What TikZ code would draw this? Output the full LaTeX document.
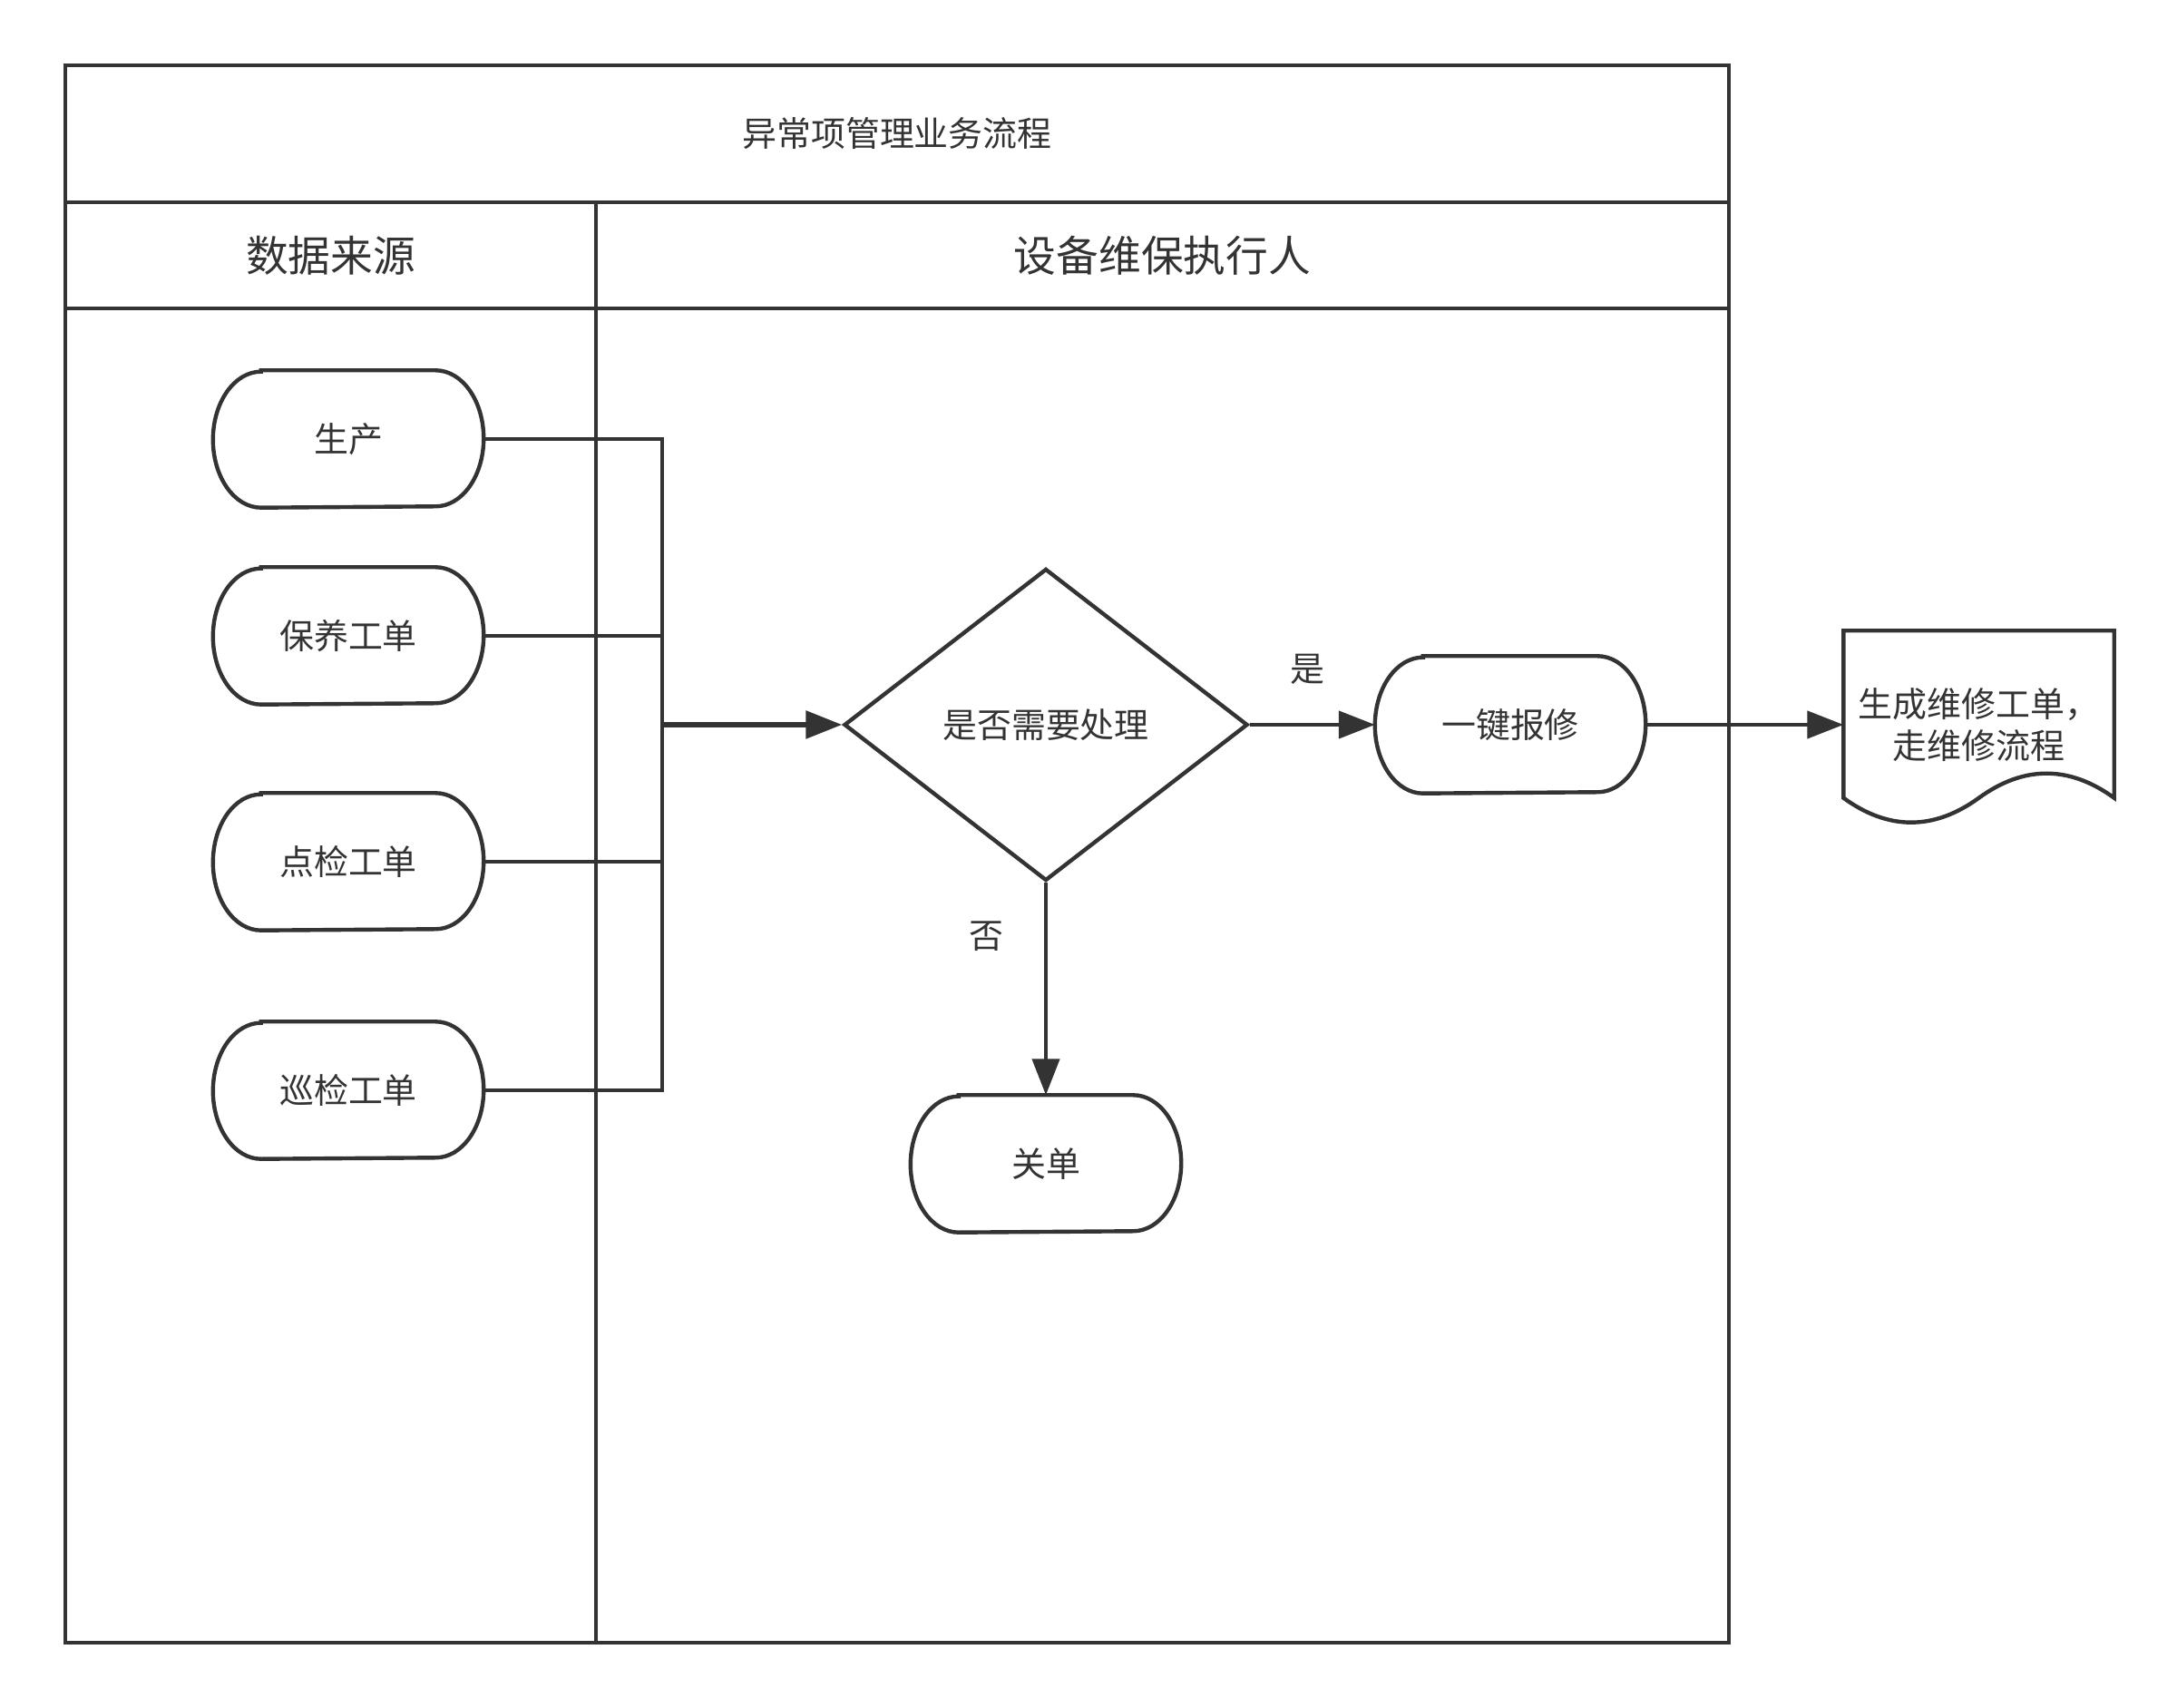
\documentclass[tikz,border=0pt]{standalone}
\usepackage{fontspec}
\setmainfont{Noto Sans CJK SC}
\usepackage{tikz}
\usetikzlibrary{positioning, arrows.meta, calc, shapes.geometric}

\definecolor{linegray}{HTML}{333333}

\tikzset{
    lane/.style={draw=linegray, line width=1.4pt},
    flow/.style={draw=linegray, line width=1.25pt},
    flowarrow/.style={flow, -{Triangle[length=4mm, width=3mm]}},
    nodefont/.style={text=linegray, font=\fontsize{10.8}{13.3}\selectfont},
    termnode/.style={nodefont, rectangle, minimum width=2.97cm, minimum height=1.5cm, inner sep=0},
    decision/.style={nodefont, diamond, draw=linegray, line width=1.25pt, minimum width=4.45cm, minimum height=3.44cm, inner sep=0},
    docnode/.style={nodefont, rectangle, align=center, minimum width=2.97cm, minimum height=2.06cm, inner sep=0},
    edgelabel/.style={nodefont, inner sep=0}
}

% terminator outline with elliptic ends
\def\termframe#1{%
    \draw[flow]
        ($(#1.north west)+(0.53,0)$) -- ($(#1.north east)+(-0.53,0)$)
        arc[start angle=90, end angle=-90, x radius=0.53cm, y radius=0.75cm]
        -- ($(#1.south west)+(0.53,0)$)
        arc[start angle=270, end angle=90, x radius=0.53cm, y radius=0.75cm]
        -- cycle;
}

\begin{document}
\begin{tikzpicture}
    \useasboundingbox (0,0) rectangle (24,18.82);

    % pool and lanes
    \draw[lane] (0.72,0.71) rectangle (19.06,18.10);
    \draw[lane] (0.72,16.59) -- (19.06,16.59);
    \draw[lane] (0.72,15.42) -- (19.06,15.42);
    \draw[lane] (6.57,0.71) -- (6.57,16.59);

    \node[nodefont] (title) at (9.89,17.345) {异常项管理业务流程};
    \node[nodefont, font=\fontsize{13.3}{16}\selectfont] (srclane) at (3.645,16.005) {数据来源};
    \node[nodefont, font=\fontsize{13.3}{16}\selectfont] (execlane) at (12.815,16.005) {设备维保执行人};

    % data sources
    \foreach \name/\y/\txt in {prod/13.98/生产, maint/11.81/保养工单, check/9.32/点检工单, patrol/6.80/巡检工单}
    {
        \node[termnode] (\name) at (3.84,\y) {\txt};
        \termframe{\name}
    }

    \coordinate (merge) at (7.30,10.83);

    % executor lane
    \node[decision] (need) at (11.53,10.83) {是否需要处理};

    \node[termnode] (repair) at (16.65,10.83) {一键报修};
    \termframe{repair}

    \node[termnode] (close) at (11.53,5.99) {关单};
    \termframe{close}

    \node[docnode] (order) at (21.815,10.83) {生成维修工单，\\走维修流程};
    \draw[flow]
        (order.north west) -- (order.north east) -- ($(order.south east)+(0,0.23)$)
        .. controls ($(order.south east)+(-0.495,0.59)$) and ($(order.south)+(0.495,0.59)$) .. ($(order.south)+(0,0.23)$)
        .. controls ($(order.south)+(-0.495,-0.13)$) and ($(order.south west)+(0.495,-0.13)$) .. ($(order.south west)+(0,0.23)$)
        -- cycle;

    % connectors
    \foreach \name in {prod, maint, check, patrol}
    {
        \draw[flow] (\name.east) -| (merge);
    }
    \draw[flowarrow, line width=1.6pt] (merge) -- (need.west);

    \draw[flowarrow] (need.east) -- node[edgelabel, pos=0.46, above=0.42cm] {是} (repair.west);
    \draw[flowarrow] (repair.east) -- (order.west);
    \draw[flowarrow] (need.south) -- node[edgelabel, pos=0.25, left=0.44cm] {否} (close.north);
\end{tikzpicture}
\end{document}
